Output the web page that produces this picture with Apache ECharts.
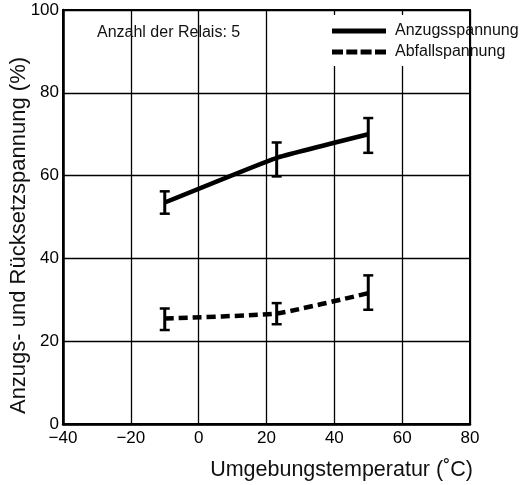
<!DOCTYPE html>
<html>
<head>
<meta charset="utf-8">
<script src="https://cdn.jsdelivr.net/npm/echarts@6/dist/echarts.min.js"></script>
<style>html,body{margin:0;padding:0;background:#fff}#c{width:532px;height:485px}</style>
</head>
<body>
<div id="c"></div>
<script>
// ---- data ----
const temps = [-10, 23, 50];
const pickup = [53.5, 64.3, 70.0];
const pickupLow = [50.8, 59.8, 65.5];
const pickupHigh = [56.2, 68.0, 73.9];
const dropout = [25.5, 26.7, 31.6];
const dropoutLow = [22.7, 24.1, 27.6];
const dropoutHigh = [27.9, 29.2, 35.9];
const xRange = [-40, 80];
const xStep = 20;
const yRange = [0, 100];
const yStep = 20;
const seriesNames = ['Anzugsspannung', 'Abfallspannung'];
const noteText = 'Anzahl der Relais: 5';
const xName = 'Umgebungstemperatur (˚C)';
const yName = 'Anzugs- und Rücksetzspannung (%)';

const FONT = '"Liberation Sans", Arial, Helvetica, sans-serif';
const chart = echarts.init(document.getElementById('c'));

function pairs(xs, ys) { return xs.map((x, i) => [x, ys[i]]); }
function bars(xs, lo, hi) { return xs.map((x, i) => [x, lo[i], hi[i]]); }

function renderErr(params, api) {
  const x = api.value(0), lo = api.value(1), hi = api.value(2);
  const a = api.coord([x, lo]), b = api.coord([x, hi]);
  const hw = 5;
  const st = { stroke: '#000', lineWidth: 3 };
  return {
    type: 'group',
    children: [
      { type: 'line', shape: { x1: a[0], y1: a[1], x2: b[0], y2: b[1] }, style: st },
      { type: 'line', shape: { x1: a[0] - hw, y1: a[1], x2: a[0] + hw, y2: a[1] }, style: { stroke: '#000', lineWidth: 2.5 } },
      { type: 'line', shape: { x1: b[0] - hw, y1: b[1], x2: b[0] + hw, y2: b[1] }, style: { stroke: '#000', lineWidth: 2.5 } }
    ]
  };
}

const option = {
  animation: false,
  backgroundColor: '#fff',
  textStyle: { fontFamily: FONT, color: '#000' },
  title: {
    text: noteText,
    left: 97, top: 25, padding: 0,
    textStyle: { fontFamily: FONT, fontSize: 16, fontWeight: 'normal', color: '#111' }
  },
  grid: { left: 63, right: 62, top: 10, bottom: 61, show: true, borderColor: '#000', borderWidth: 2,
    backgroundColor: 'transparent', outerBoundsMode: 'none', containLabel: false },
  graphic: [{
    type: 'rect', z: 1, silent: true,
    shape: { x: 330, y: 15, width: 139, height: 51 },
    style: { fill: '#fff' }
  }],
  legend: {
    orient: 'vertical', left: 332, top: 23, padding: 0,
    itemWidth: 54, itemHeight: 5, itemGap: 5,
    textStyle: { fontFamily: FONT, fontSize: 16, color: '#111', padding: [0, 0, 0, 4] },
    data: [
      { name: seriesNames[0], icon: 'path://M0,0H54V5H0Z' },
      { name: seriesNames[1], icon: 'path://M0,0H11V5H0Z M14.3,0H25.3V5H14.3Z M28.6,0H39.6V5H28.6Z M43,0H54V5H43Z' }
    ]
  },
  xAxis: {
    type: 'value', min: xRange[0], max: xRange[1], interval: xStep,
    name: xName, nameLocation: 'end', nameGap: 3, nameMoveOverlap: false,
    nameTextStyle: { fontFamily: FONT, fontSize: 21.5, color: '#111', align: 'right', verticalAlign: 'top', padding: [35, 0, 0, 0] },
    axisLine: { show: true, onZero: false, lineStyle: { color: '#000', width: 2.5 } },
    axisTick: { show: false },
    splitLine: { show: true, lineStyle: { color: '#000', width: 1.3 } },
    axisLabel: { fontFamily: FONT, fontSize: 17, color: '#000', margin: 6,
      formatter: v => (v < 0 ? '\u2212' + Math.abs(v) : String(v)) }
  },
  yAxis: {
    type: 'value', min: yRange[0], max: yRange[1], interval: yStep,
    name: yName, nameLocation: 'middle', nameGap: 33, nameMoveOverlap: false,
    nameTextStyle: { fontFamily: FONT, fontSize: 22, color: '#111', padding: [0, 37, 0, 0] },
    axisLine: { show: true, onZero: false, lineStyle: { color: '#000', width: 2.5 } },
    axisTick: { show: false },
    splitLine: { show: true, lineStyle: { color: '#000', width: 1.3 } },
    axisLabel: { fontFamily: FONT, fontSize: 17, color: '#000', margin: 4 }
  },
  series: [
    {
      name: seriesNames[0], type: 'line', data: pairs(temps, pickup),
      smooth: 0.1, symbol: 'none', z: 3,
      itemStyle: { color: '#000' },
      lineStyle: { color: '#000', width: 4.5 }
    },
    {
      name: seriesNames[1], type: 'line', data: pairs(temps, dropout),
      smooth: 0.15, symbol: 'none', z: 3,
      itemStyle: { color: '#000' },
      lineStyle: { color: '#000', width: 4.5, type: [9, 5] }
    },
    {
      name: 'err1', type: 'custom', data: bars(temps, pickupLow, pickupHigh),
      renderItem: renderErr, encode: { x: 0, y: [1, 2] }, z: 4, silent: true
    },
    {
      name: 'err2', type: 'custom', data: bars(temps, dropoutLow, dropoutHigh),
      renderItem: renderErr, encode: { x: 0, y: [1, 2] }, z: 4, silent: true
    }
  ]
};
chart.setOption(option);
</script>
</body>
</html>
